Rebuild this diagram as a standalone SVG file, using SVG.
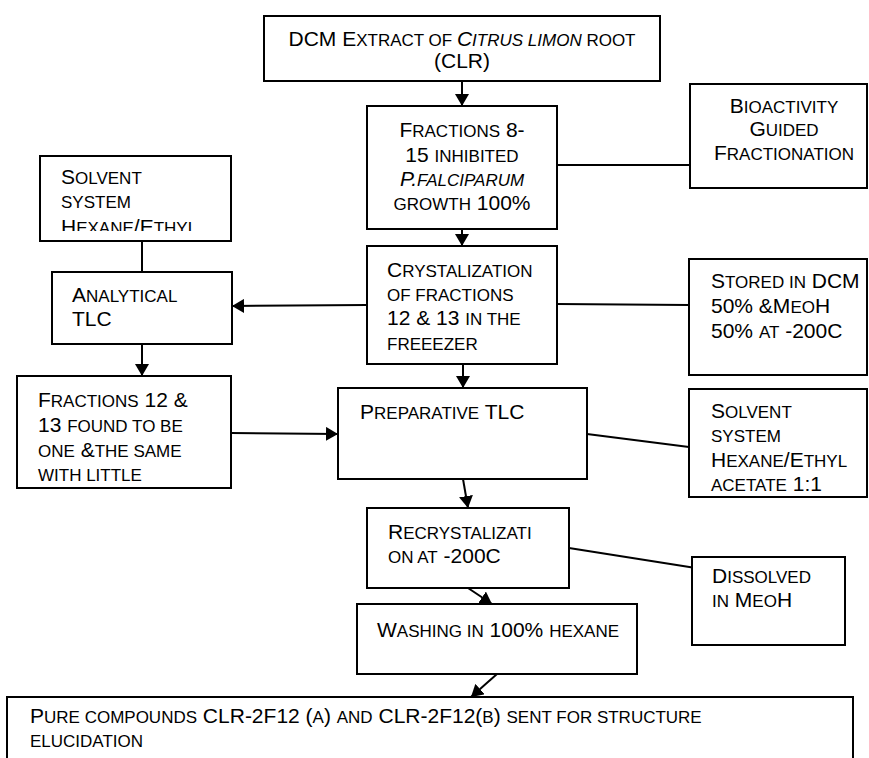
<svg xmlns="http://www.w3.org/2000/svg" width="869" height="758" viewBox="0 0 869 758">
<style>
.box{fill:#fff;stroke:#000;stroke-width:2}
.t{font-family:"Liberation Sans",Arial,sans-serif;font-size:21px;fill:#000}
.s{font-size:17px}
.i{font-style:italic}
.ln{stroke:#000;stroke-width:2;fill:none}
.ar{marker-end:url(#ah)}
</style>
<defs>
<marker id="ah" viewBox="0 0 12 14" markerWidth="12" markerHeight="14" refX="12" refY="7" orient="auto" markerUnits="userSpaceOnUse">
<path d="M0,0 L12,7 L0,14 z" fill="#000"/>
</marker>
<clipPath id="c1"><rect x="40" y="155" width="191" height="76"/></clipPath>
</defs>
<rect width="869" height="758" fill="#fff"/>

<g id="connectors">
<line class="ln ar" x1="462" y1="82" x2="462" y2="106"/>
<line class="ln" x1="557" y1="165" x2="690" y2="165"/>
<line class="ln ar" x1="462" y1="229" x2="462" y2="246"/>
<line class="ln" x1="142" y1="241" x2="142" y2="272"/>
<line class="ln ar" x1="367" y1="305" x2="232" y2="306"/>
<line class="ln" x1="557" y1="304" x2="689" y2="305"/>
<line class="ln ar" x1="142" y1="344" x2="142" y2="376"/>
<line class="ln ar" x1="463" y1="364" x2="463" y2="388"/>
<line class="ln ar" x1="231" y1="433" x2="338" y2="434"/>
<line class="ln" x1="587" y1="434" x2="689" y2="447"/>
<line class="ln ar" x1="463" y1="479" x2="468" y2="508"/>
<line class="ln ar" x1="468" y1="588" x2="492" y2="604"/>
<line class="ln ar" x1="497" y1="674" x2="471" y2="697"/>
<line class="ln" x1="569" y1="548" x2="702" y2="569"/>
</g>

<g id="n-extract">
<rect class="box" x="264" y="16" width="396" height="65"/>
<text class="t" x="462" y="46" text-anchor="middle">DCM E<tspan class="s">XTRACT OF </tspan><tspan class="i">C<tspan class="s">ITRUS LIMON</tspan></tspan><tspan class="s"> ROOT</tspan></text>
<text class="t" x="462" y="68" text-anchor="middle">(CLR)</text>
</g>

<g id="n-fractions">
<rect class="box" x="367" y="106" width="190" height="123"/>
<text class="t" x="462" y="137" text-anchor="middle">F<tspan class="s">RACTIONS</tspan> 8-</text>
<text class="t" x="462" y="162" text-anchor="middle">15 <tspan class="s">INHIBITED</tspan></text>
<text class="t i" x="462" y="186" text-anchor="middle">P.<tspan class="s">FALCIPARUM</tspan></text>
<text class="t" x="462" y="210" text-anchor="middle"><tspan class="s">GROWTH</tspan> 100%</text>
</g>

<g id="n-bioactivity">
<rect class="box" x="690" y="84" width="177" height="104"/>
<text class="t" x="784" y="113" text-anchor="middle">B<tspan class="s">IOACTIVITY</tspan></text>
<text class="t" x="784" y="136" text-anchor="middle">G<tspan class="s">UIDED</tspan></text>
<text class="t" x="784" y="160" text-anchor="middle">F<tspan class="s">RACTIONATION</tspan></text>
</g>

<g id="n-solvent1">
<rect class="box" x="40" y="156" width="191" height="85"/>
<g clip-path="url(#c1)">
<text class="t" x="61" y="184">S<tspan class="s">OLVENT</tspan></text>
<text class="t" x="61" y="208"><tspan class="s">SYSTEM</tspan></text>
<text class="t" x="61" y="234">H<tspan class="s">EXANE</tspan>/E<tspan class="s">THYL</tspan></text>
</g>
</g>

<g id="n-analytical">
<rect class="box" x="52" y="272" width="180" height="72"/>
<text class="t" x="72" y="302">A<tspan class="s">NALYTICAL</tspan></text>
<text class="t" x="72" y="326">TLC</text>
</g>

<g id="n-crystal">
<rect class="box" x="367" y="246" width="190" height="118"/>
<text class="t" x="387" y="277">C<tspan class="s">RYSTALIZATION</tspan></text>
<text class="t" x="387" y="301"><tspan class="s">OF FRACTIONS</tspan></text>
<text class="t" x="387" y="325">12 &amp; 13 <tspan class="s">IN THE</tspan></text>
<text class="t" x="387" y="350"><tspan class="s">FREEEZER</tspan></text>
</g>

<g id="n-stored">
<rect class="box" x="689" y="259" width="178" height="116"/>
<text class="t" x="711" y="288">S<tspan class="s">TORED IN</tspan> DCM</text>
<text class="t" x="711" y="313">50% &amp;M<tspan class="s">EO</tspan>H</text>
<text class="t" x="711" y="338">50% <tspan class="s">AT</tspan> -200C</text>
</g>

<g id="n-fractions12">
<rect class="box" x="17" y="376" width="214" height="112"/>
<text class="t" x="38" y="407">F<tspan class="s">RACTIONS</tspan> 12 &amp;</text>
<text class="t" x="38" y="432">13 <tspan class="s">FOUND TO BE</tspan></text>
<text class="t" x="38" y="457"><tspan class="s">ONE</tspan> &amp;<tspan class="s">THE SAME</tspan></text>
<text class="t" x="38" y="481"><tspan class="s">WITH LITTLE</tspan></text>
</g>

<g id="n-preparative">
<rect class="box" x="338" y="388" width="249" height="91"/>
<text class="t" x="360" y="419">P<tspan class="s">REPARATIVE</tspan> TLC</text>
</g>

<g id="n-solvent2">
<rect class="box" x="689" y="389" width="178" height="108"/>
<text class="t" x="711" y="418">S<tspan class="s">OLVENT</tspan></text>
<text class="t" x="711" y="442"><tspan class="s">SYSTEM</tspan></text>
<text class="t" x="711" y="467">H<tspan class="s">EXANE</tspan>/E<tspan class="s">THYL</tspan></text>
<text class="t" x="711" y="491"><tspan class="s">ACETATE</tspan> 1:1</text>
</g>

<g id="n-recryst">
<rect class="box" x="367" y="508" width="202" height="80"/>
<text class="t" x="388" y="539">R<tspan class="s">ECRYSTALIZATI</tspan></text>
<text class="t" x="388" y="563"><tspan class="s">ON AT</tspan> -200C</text>
</g>

<g id="n-dissolved">
<rect class="box" x="692" y="557" width="153" height="88"/>
<text class="t" x="712" y="583">D<tspan class="s">ISSOLVED</tspan></text>
<text class="t" x="712" y="607"><tspan class="s">IN</tspan> M<tspan class="s">EO</tspan>H</text>
</g>

<g id="n-washing">
<rect class="box" x="357" y="604" width="280" height="70"/>
<text class="t" x="377" y="637">W<tspan class="s">ASHING IN</tspan> 100% <tspan class="s">HEXANE</tspan></text>
</g>

<g id="n-pure">
<rect class="box" x="7" y="697" width="846" height="80"/>
<text class="t" x="30" y="723">P<tspan class="s">URE COMPOUNDS</tspan> CLR-2F12 (<tspan class="s">A</tspan>) <tspan class="s">AND</tspan> CLR-2F12(<tspan class="s">B</tspan>) <tspan class="s">SENT FOR STRUCTURE</tspan></text>
<text class="t" x="30" y="747"><tspan class="s">ELUCIDATION</tspan></text>
</g>
</svg>
